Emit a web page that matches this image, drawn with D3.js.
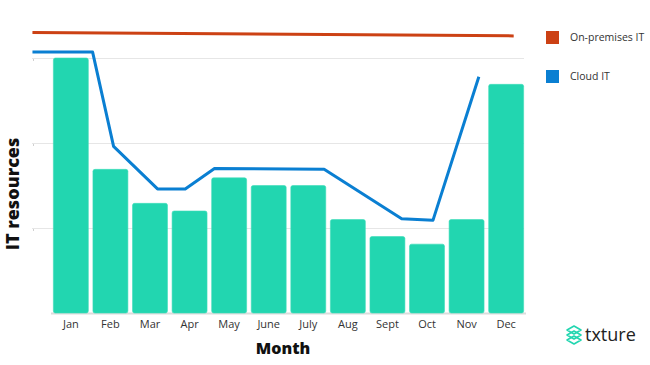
<!DOCTYPE html>
<html><head><meta charset="utf-8">
<script src="https://cdn.jsdelivr.net/npm/d3@7"></script>
<style>body{margin:0;background:#fff}svg{display:block}</style>
</head><body><svg id="c" width="650" height="365"></svg>
<script>
const months = ["Jan","Feb","Mar","Apr","May","June","July","Aug","Sept","Oct","Nov","Dec"];
const cloudBars = [3.0,1.69,1.29,1.2,1.59,1.5,1.5,1.1,0.9,0.81,1.1,2.69];
const cloudLineX = [-0.97,0.55,1.08,2.19,2.89,3.63,6.40,8.36,9.15,10.31];
const cloudLineY = [3.07,3.07,1.96,1.46,1.46,1.70,1.69,1.11,1.09,2.78];
const onPremX = [-0.97,11.19];
const onPremY = [3.30,3.26];
const yTicks = [0,1,2,3];
const legendItems = [["On-premises IT","#cc4114"],["Cloud IT","#0a7fd2"]];

const svg = d3.select("#c");
const band = d3.scaleBand().domain(months).range([51,526]).paddingInner(0.117).paddingOuter(0.06);
const xc = d3.scaleLinear().domain([0,11]).range([band("Jan")+band.bandwidth()/2, band("Dec")+band.bandwidth()/2]);
const y = d3.scaleLinear().domain([0,3]).range([313,58]);

// gridlines
svg.append("g").selectAll("line").data(yTicks.filter(d=>d>0)).join("line")
  .attr("x1",32).attr("x2",524).attr("y1",d=>y(d)+0.5).attr("y2",d=>y(d)+0.5)
  .attr("stroke","#e6e6e6").attr("stroke-width",1);
svg.append("g").selectAll("rect").data(yTicks.filter(d=>d>0)).join("rect")
  .attr("x",33).attr("y",d=>y(d)+1).attr("width",1).attr("height",2).attr("fill","#d0d0d0");
// baseline
svg.append("line").attr("x1",51).attr("x2",526).attr("y1",y(0)+0.5).attr("y2",y(0)+0.5)
  .attr("stroke","#dcdcdc").attr("stroke-width",2);

// bars
svg.append("g").selectAll("rect").data(cloudBars).join("rect")
  .attr("x",(d,i)=>band(months[i])).attr("width",band.bandwidth())
  .attr("y",d=>y(d)).attr("height",d=>y(0)-y(d))
  .attr("rx",2).attr("fill","#22d6b0").attr("stroke","#3ddbb9").attr("stroke-width",0.6);

// lines
const line = d3.line().x(d=>xc(d[0])).y(d=>y(d[1]));
svg.append("path").datum(onPremX.map((x,i)=>[x,onPremY[i]]))
  .attr("d",line).attr("fill","none").attr("stroke","#cc4114").attr("stroke-width",3);
svg.append("path").datum(cloudLineX.map((x,i)=>[x,cloudLineY[i]]))
  .attr("d",line).attr("fill","none").attr("stroke","#0a7fd2").attr("stroke-width",3)
  .attr("stroke-linejoin","round");

// x labels
svg.append("g").selectAll("text").data(months).join("text")
  .attr("x",d=>band(d)+band.bandwidth()/2).attr("y",328)
  .attr("text-anchor","middle").attr("font-family","'Open Sans',sans-serif")
  .attr("font-size",11).attr("fill","#333").text(d=>d);

svg.append("text").attr("x",283).attr("y",354).attr("text-anchor","middle")
  .attr("font-family","'Open Sans',sans-serif").attr("font-weight",800).attr("font-size",16)
  .attr("fill","#111").text("Month");
svg.append("text").attr("transform","translate(19,194) rotate(-90)").attr("text-anchor","middle")
  .attr("font-family","'Open Sans',sans-serif").attr("font-weight",800).attr("font-size",18)
  .attr("fill","#111").text("IT resources");

// legend
const lg = svg.append("g").selectAll("g").data(legendItems).join("g")
  .attr("transform",(d,i)=>`translate(546,${31+i*39})`);
lg.append("rect").attr("width",13).attr("height",13).attr("fill",d=>d[1]);
lg.append("text").attr("x",24).attr("y",10).attr("font-family","'Open Sans',sans-serif")
  .attr("font-size",10.5).attr("fill","#333").text(d=>d[0]);

// logo
const logo = svg.append("g").attr("transform","translate(574,335)");
[-5,0,5].forEach(dy=>{
  logo.append("path").attr("d",`M-7,${dy} L0,${dy-4} L7,${dy} L0,${dy+4} Z`)
    .attr("fill","none").attr("stroke","#22d6b0").attr("stroke-width",1.6).attr("stroke-linejoin","round");
});
svg.append("text").attr("x",585).attr("y",341).attr("font-family","'Open Sans',sans-serif")
  .attr("font-size",18).attr("fill","#222").text("txture");
</script></body></html>
